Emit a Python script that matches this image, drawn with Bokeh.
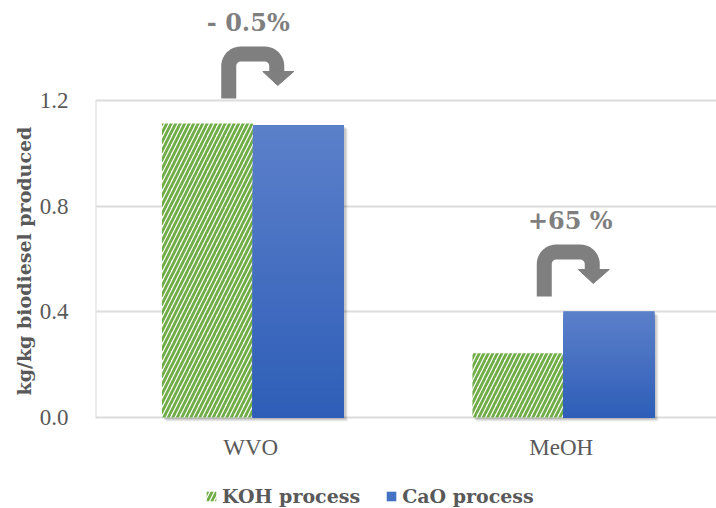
import numpy as np
from bokeh.plotting import figure
from bokeh.models import (FactorRange, Range1d, FixedTicker, NumeralTickFormatter,
                          Title, Legend, LegendItem, ColumnDataSource)
from bokeh.transform import dodge
from bokeh.core.properties import value
from bokeh.embed import file_html
from bokeh.resources import INLINE

# ---- data -------------------------------------------------------------
categories = ["WVO", "MeOH"]
koh_values = [1.113, 0.243]          # kg / kg biodiesel, KOH process
cao_values = [1.107, 0.401]          # kg / kg biodiesel, CaO process
series_labels = ["KOH process", "CaO process"]
change_labels = ["- 0.5%", "+65 %"]
y_ticks = [0.0, 0.4, 0.8, 1.2]

# ---- styling ----------------------------------------------------------
FONT = "Liberation Serif"
BOLD_FONT = "DejaVu Serif"
TEXT = "#595959"
GRID = "#dcdcdc"
GREEN = "#70ad47"
BLUE = "#4472c4"
BLUE_TOP = np.array([0x5c, 0x80, 0xca])
BLUE_BOTTOM = np.array([0x2e, 0x5e, 0xb8])
ARROW = "#7f7f7f"

W, H = 716, 508
LEFT = 95
PX_PER_UNIT = 264.17          # vertical scale of the value axis
ZERO_PX = 417                 # canvas row of the zero line
Y_START = -(H - ZERO_PX) / PX_PER_UNIT
Y_END = ZERO_PX / PX_PER_UNIT

p = figure(width=W, height=H,
           x_range=FactorRange(factors=categories),
           y_range=Range1d(Y_START, Y_END),
           x_axis_location=None,
           output_backend="svg", toolbar_location=None,
           min_border_left=LEFT, min_border_right=0,
           min_border_top=0, min_border_bottom=0)
p.outline_line_color = None

# pixel -> data unit helpers for the annotation shapes
XU = len(categories) / (W - LEFT)
YU = 1.0 / PX_PER_UNIT

# ---- axes and grid ----------------------------------------------------
p.xgrid.visible = False
p.ygrid.ticker = FixedTicker(ticks=y_ticks)
p.ygrid.grid_line_color = GRID
p.ygrid.grid_line_width = 2

p.yaxis.ticker = FixedTicker(ticks=y_ticks)
p.yaxis.formatter = NumeralTickFormatter(format="0.0")
ax = p.yaxis[0]
ax.axis_line_color = None
ax.major_tick_line_color = None
ax.minor_tick_line_color = None
ax.major_label_text_font = FONT
ax.major_label_text_font_size = "23px"
ax.major_label_text_color = TEXT
ax.major_label_standoff = 21

# y-axis title, anchored at the bottom of the 0 - 1.2 band
p.add_layout(Title(text="kg/kg biodiesel produced", align="left", offset=H - 395,
                   text_font=BOLD_FONT, text_font_style="bold",
                   text_font_size="19px", text_color=TEXT, standoff=3), "left")

# category labels under the zero line
cat_src = ColumnDataSource(dict(cat=categories))
p.text(x="cat", y=-17 * YU, text="cat", source=cat_src,
       text_font=value(FONT), text_font_size="23px", text_color=TEXT,
       text_align="center", text_baseline="top")

# plot-area left border
p.segment(x0=[0], y0=[0], x1=[0], y1=[y_ticks[-1]], line_color=GRID, line_width=2)

# ---- bars -------------------------------------------------------------
BAR_W = 0.293
KOH_OFF = -0.1395
CAO_OFF = 0.1535

src = ColumnDataSource(dict(cat=categories, koh=koh_values, cao=cao_values))

# soft drop shadows
for sx, sy, a in [(4, 4, 0.06), (3, 3, 0.08), (2, 2, 0.10)]:
    for off, col in ((KOH_OFF, "koh"), (CAO_OFF, "cao")):
        shadow = ColumnDataSource(dict(cat=categories,
                                       top=[v - sy * YU for v in src.data[col]]))
        p.vbar(x=dodge("cat", off + sx * XU, range=p.x_range), top="top",
               bottom=-sy * YU, width=BAR_W, source=shadow,
               fill_color="black", fill_alpha=a, line_color=None)

koh_r = p.vbar(x=dodge("cat", KOH_OFF, range=p.x_range), top="koh", width=BAR_W,
               source=src, fill_color="white", line_color=None,
               hatch_pattern="/", hatch_color=GREEN, hatch_scale=9, hatch_weight=2.8)

cao_r = p.vbar(x=dodge("cat", CAO_OFF, range=p.x_range), top="cao", width=BAR_W,
               source=src, fill_color=BLUE, line_color=None)

# vertical gradient on the CaO bars (tallest slice first so no seams show)
N = 40
g_cat, g_top, g_col = [], [], []
for c, v in zip(categories, cao_values):
    for i in range(N - 1, -1, -1):
        t = (i + 0.5) / N
        rgb = (BLUE_BOTTOM + (BLUE_TOP - BLUE_BOTTOM) * t).round().astype(int)
        g_cat.append(c)
        g_top.append(v * (i + 1) / N)
        g_col.append("#%02x%02x%02x" % tuple(rgb))
grad = ColumnDataSource(dict(cat=g_cat, top=g_top, color=g_col))
p.vbar(x=dodge("cat", CAO_OFF, range=p.x_range), top="top", width=BAR_W,
       source=grad, fill_color="color", line_color=None)

# ---- curved change arrows with percentage labels ----------------------
def arrow_shape(cx, by):
    """Hook arrow: stem up, rounded turn to the right, head pointing down."""
    r, span, rise, arm_end = 12.0, 48.0, 44.5, 25.0
    xs, ys = [0.0], [0.0]
    a1 = np.linspace(np.pi, np.pi / 2, 12)
    xs += list(r + r * np.cos(a1)); ys += list(rise - r + r * np.sin(a1))
    a2 = np.linspace(np.pi / 2, 0, 12)
    xs += list(span - r + r * np.cos(a2)); ys += list(rise - r + r * np.sin(a2))
    xs.append(span); ys.append(arm_end)
    hx = [span - 14, span + 17, span + 1]
    hy = [arm_end + 2, arm_end + 2, 13]
    to_x = lambda arr: [cx + q * XU for q in arr]
    to_y = lambda arr: [by + q * YU for q in arr]
    return to_x(xs), to_y(ys), to_x(hx), to_y(hy)

arrow_dx = [-22, -17]        # stem offset from the category centre, px
arrow_base = [1.2076, 0.458]  # stem foot, data units
label_dx = [19.5, 26]
label_rise = 76

for i, c in enumerate(categories):
    cx = categories.index(c) + 0.5 + arrow_dx[i] * XU
    by = arrow_base[i]
    lx, ly, hx, hy = arrow_shape(cx, by)
    p.line(lx, ly, line_color=ARROW, line_width=15, line_cap="butt", line_join="round")
    p.patch(hx, hy, fill_color=ARROW, line_color=ARROW, line_width=1)
    p.text(x=[cx + label_dx[i] * XU], y=[by + label_rise * YU], text=[change_labels[i]],
           text_font=value(BOLD_FONT), text_font_style="bold", text_font_size="24px",
           text_color=ARROW, text_align="center", text_baseline="alphabetic")

# ---- legend along the bottom edge -------------------------------------
legend = Legend(items=[LegendItem(label=series_labels[0], renderers=[koh_r]),
                       LegendItem(label=series_labels[1], renderers=[cao_r])],
                orientation="horizontal", location=(110, 1),
                label_text_font=BOLD_FONT, label_text_font_style="bold",
                label_text_font_size="19px", label_text_color=TEXT,
                glyph_width=12, glyph_height=12, label_standoff=5, spacing=25,
                padding=0, margin=0, border_line_color=None,
                background_fill_alpha=0)
p.add_layout(legend)

open("out.html", "w").write(file_html(p, INLINE))
